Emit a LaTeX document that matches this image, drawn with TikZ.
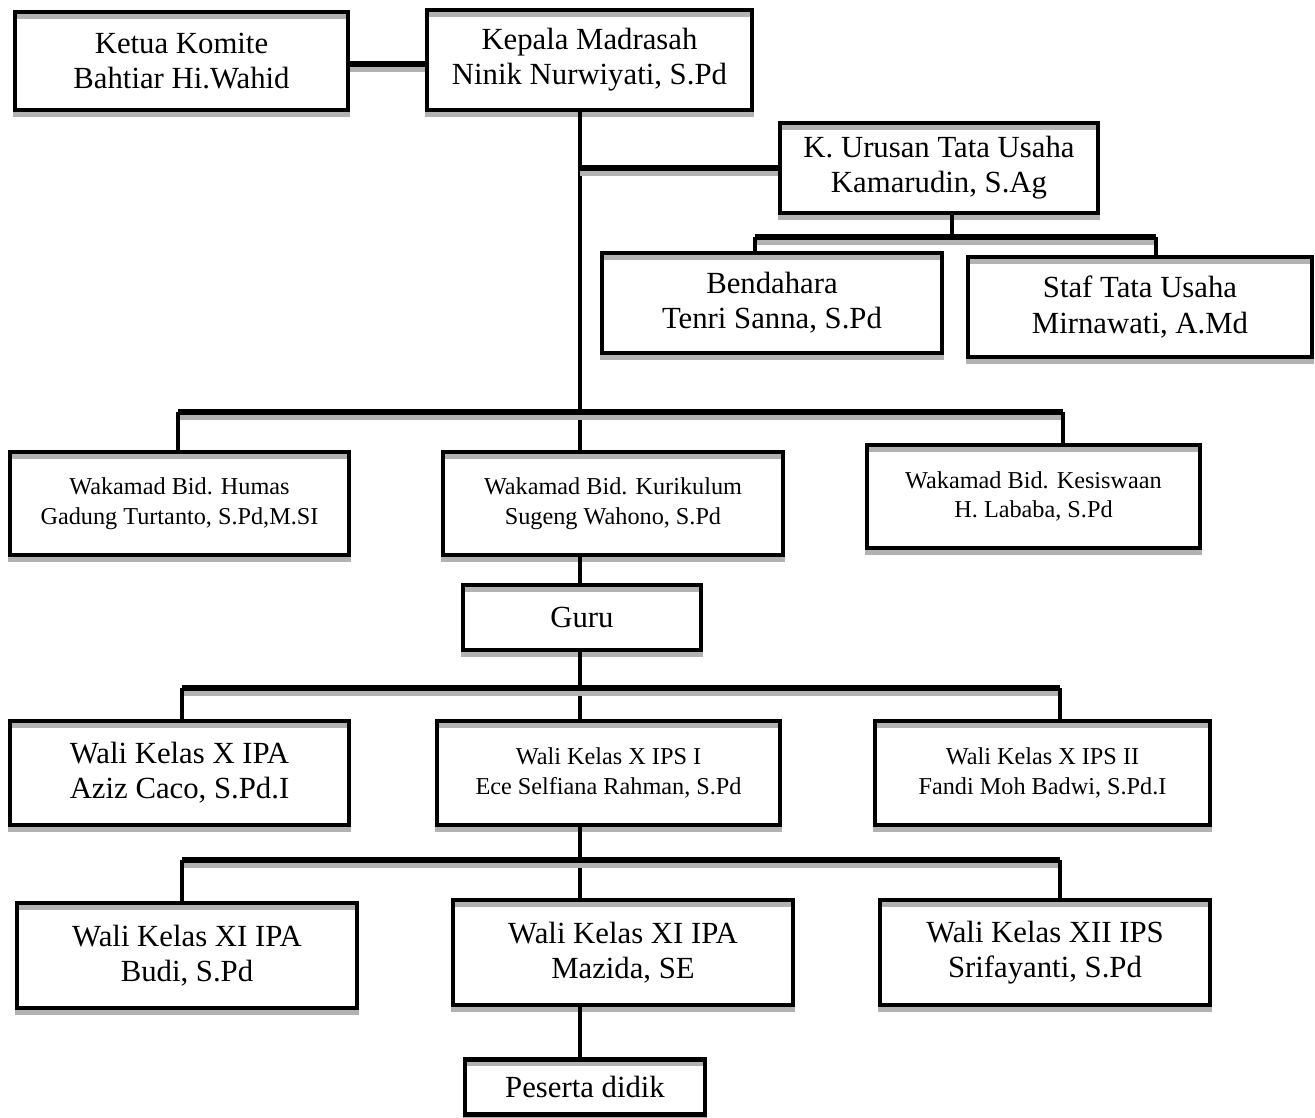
\documentclass[tikz,border=0pt]{standalone}
\usepackage{fontspec}
\setmainfont{Liberation Serif}
\tikzset{
    unit/.style={draw, line width=2.8pt, align=center, inner sep=2pt,
        preaction={draw=gray!60, line width=2.8pt, transform canvas={yshift=-2.5pt}}},
    boxsize/.style 2 args={minimum width=#1*0.02cm, minimum height=#2*0.02cm},
    big/.style={font=\fontsize{17.5}{20}\selectfont},
    small/.style={font=\fontsize{13.8}{17}\selectfont},
    link/.style={line width=2.2pt},
    bus/.style={line width=3.2pt,
        preaction={draw=gray!60, line width=3.2pt, transform canvas={yshift=-3pt}}},
}
\begin{document}
\begin{tikzpicture}[x=0.02cm, y=-0.02cm]
        \useasboundingbox (0,0) rectangle (1315,1118);
        % Top row
        \node[unit, big, boxsize={333}{98}] (ketua) at (181.5,61) {Ketua Komite\\Bahtiar Hi.Wahid};
        \node[unit, big, boxsize={325}{100}] (kepala) at (589.5,60) {Kepala Madrasah\\Ninik Nurwiyati, S.Pd};
        % Tata usaha
        \node[unit, big, boxsize={318}{90}] (urusan) at (939,168) {K. Urusan Tata Usaha\\Kamarudin, S.Ag};
        \node[unit, big, boxsize={340}{100}] (bendahara) at (772,303) {Bendahara\\Tenri Sanna, S.Pd};
        \node[unit, big, boxsize={344}{100}] (staf) at (1140,307) {Staf Tata Usaha\\Mirnawati, A.Md};
        % Wakamad
        \node[unit, small, boxsize={339}{103}] (humas) at (179.5,503.5) {Wakamad Bid. Humas\\Gadung Turtanto, S.Pd,M.SI};
        \node[unit, small, boxsize={340}{103}] (kurikulum) at (613,503.5) {Wakamad Bid. Kurikulum\\Sugeng Wahono, S.Pd};
        \node[unit, small, boxsize={333}{103}] (kesiswaan) at (1033.5,496.5) {Wakamad Bid. Kesiswaan\\H. Lababa, S.Pd};
        \node[unit, big, boxsize={238}{65}] (guru) at (582,617.5) {Guru};
        % Wali kelas X
        \node[unit, big, boxsize={339}{104}] (xipa) at (179.5,773) {Wali Kelas X IPA\\Aziz Caco, S.Pd.I};
        \node[unit, small, boxsize={343}{104}] (xipsa) at (608.5,773) {Wali Kelas X IPS I\\Ece Selfiana Rahman, S.Pd};
        \node[unit, small, boxsize={335}{104}] (xipsb) at (1042.5,773) {Wali Kelas X IPS II\\Fandi Moh Badwi, S.Pd.I};
        % Wali kelas XI, XII
        \node[unit, big, boxsize={340}{105}] (xiipa) at (187,955.5) {Wali Kelas XI IPA\\Budi, S.Pd};
        \node[unit, big, boxsize={340}{105}] (mazida) at (623,952.5) {Wali Kelas XI IPA\\Mazida, SE};
        \node[unit, big, boxsize={330}{105}] (xiiips) at (1045,952.5) {Wali Kelas XII IPS\\Srifayanti, S.Pd};
        \node[unit, big, boxsize={240}{55}] (peserta) at (585,1087) {Peserta didik};
        % Bus ends
        \coordinate (sx) at (580,0);
        \coordinate (kk) at (0,64);
        \coordinate (tuL) at (755,237);
        \coordinate (tuM) at (952,237);
        \coordinate (tuR) at (1156,237);
        \coordinate (wL) at (178,412);
        \coordinate (wR) at (1063,412);
        \coordinate (gL) at (182,688);
        \coordinate (gR) at (1060,688);
        \coordinate (kL) at (182,860);
        \coordinate (kR) at (1060,860);
        % Draw main line
        \draw[bus] (ketua.east |- kk) -- (kepala.west |- kk);
        \draw[link] (kepala.south -| sx) -- (kurikulum.north -| sx);
        \draw[bus] (urusan.west -| sx) -- (urusan.west);
        \draw[link] (kurikulum.south -| sx) -- (guru.north -| sx);
        \draw[link] (guru.south -| sx) -- (xipsa.north -| sx);
        \draw[link] (xipsa.south -| sx) -- (mazida.north -| sx);
        \draw[link] (mazida.south -| sx) -- (peserta.north -| sx);
        % Draw buses
        \draw[link] (urusan.south -| tuM) -- (tuM);
        \foreach \a/\b in {tuL/tuR, wL/wR, gL/gR, kL/kR} {
            \draw[bus] (\a) -- (\b);
        }
        % Draw drops
        \foreach \p/\n in {tuL/bendahara, tuR/staf, wL/humas, wR/kesiswaan,
                           gL/xipa, gR/xipsb, kL/xiipa, kR/xiiips} {
            \draw[link] (\p) -- (\p |- \n.north);
        }
    \end{tikzpicture}
\end{document}
